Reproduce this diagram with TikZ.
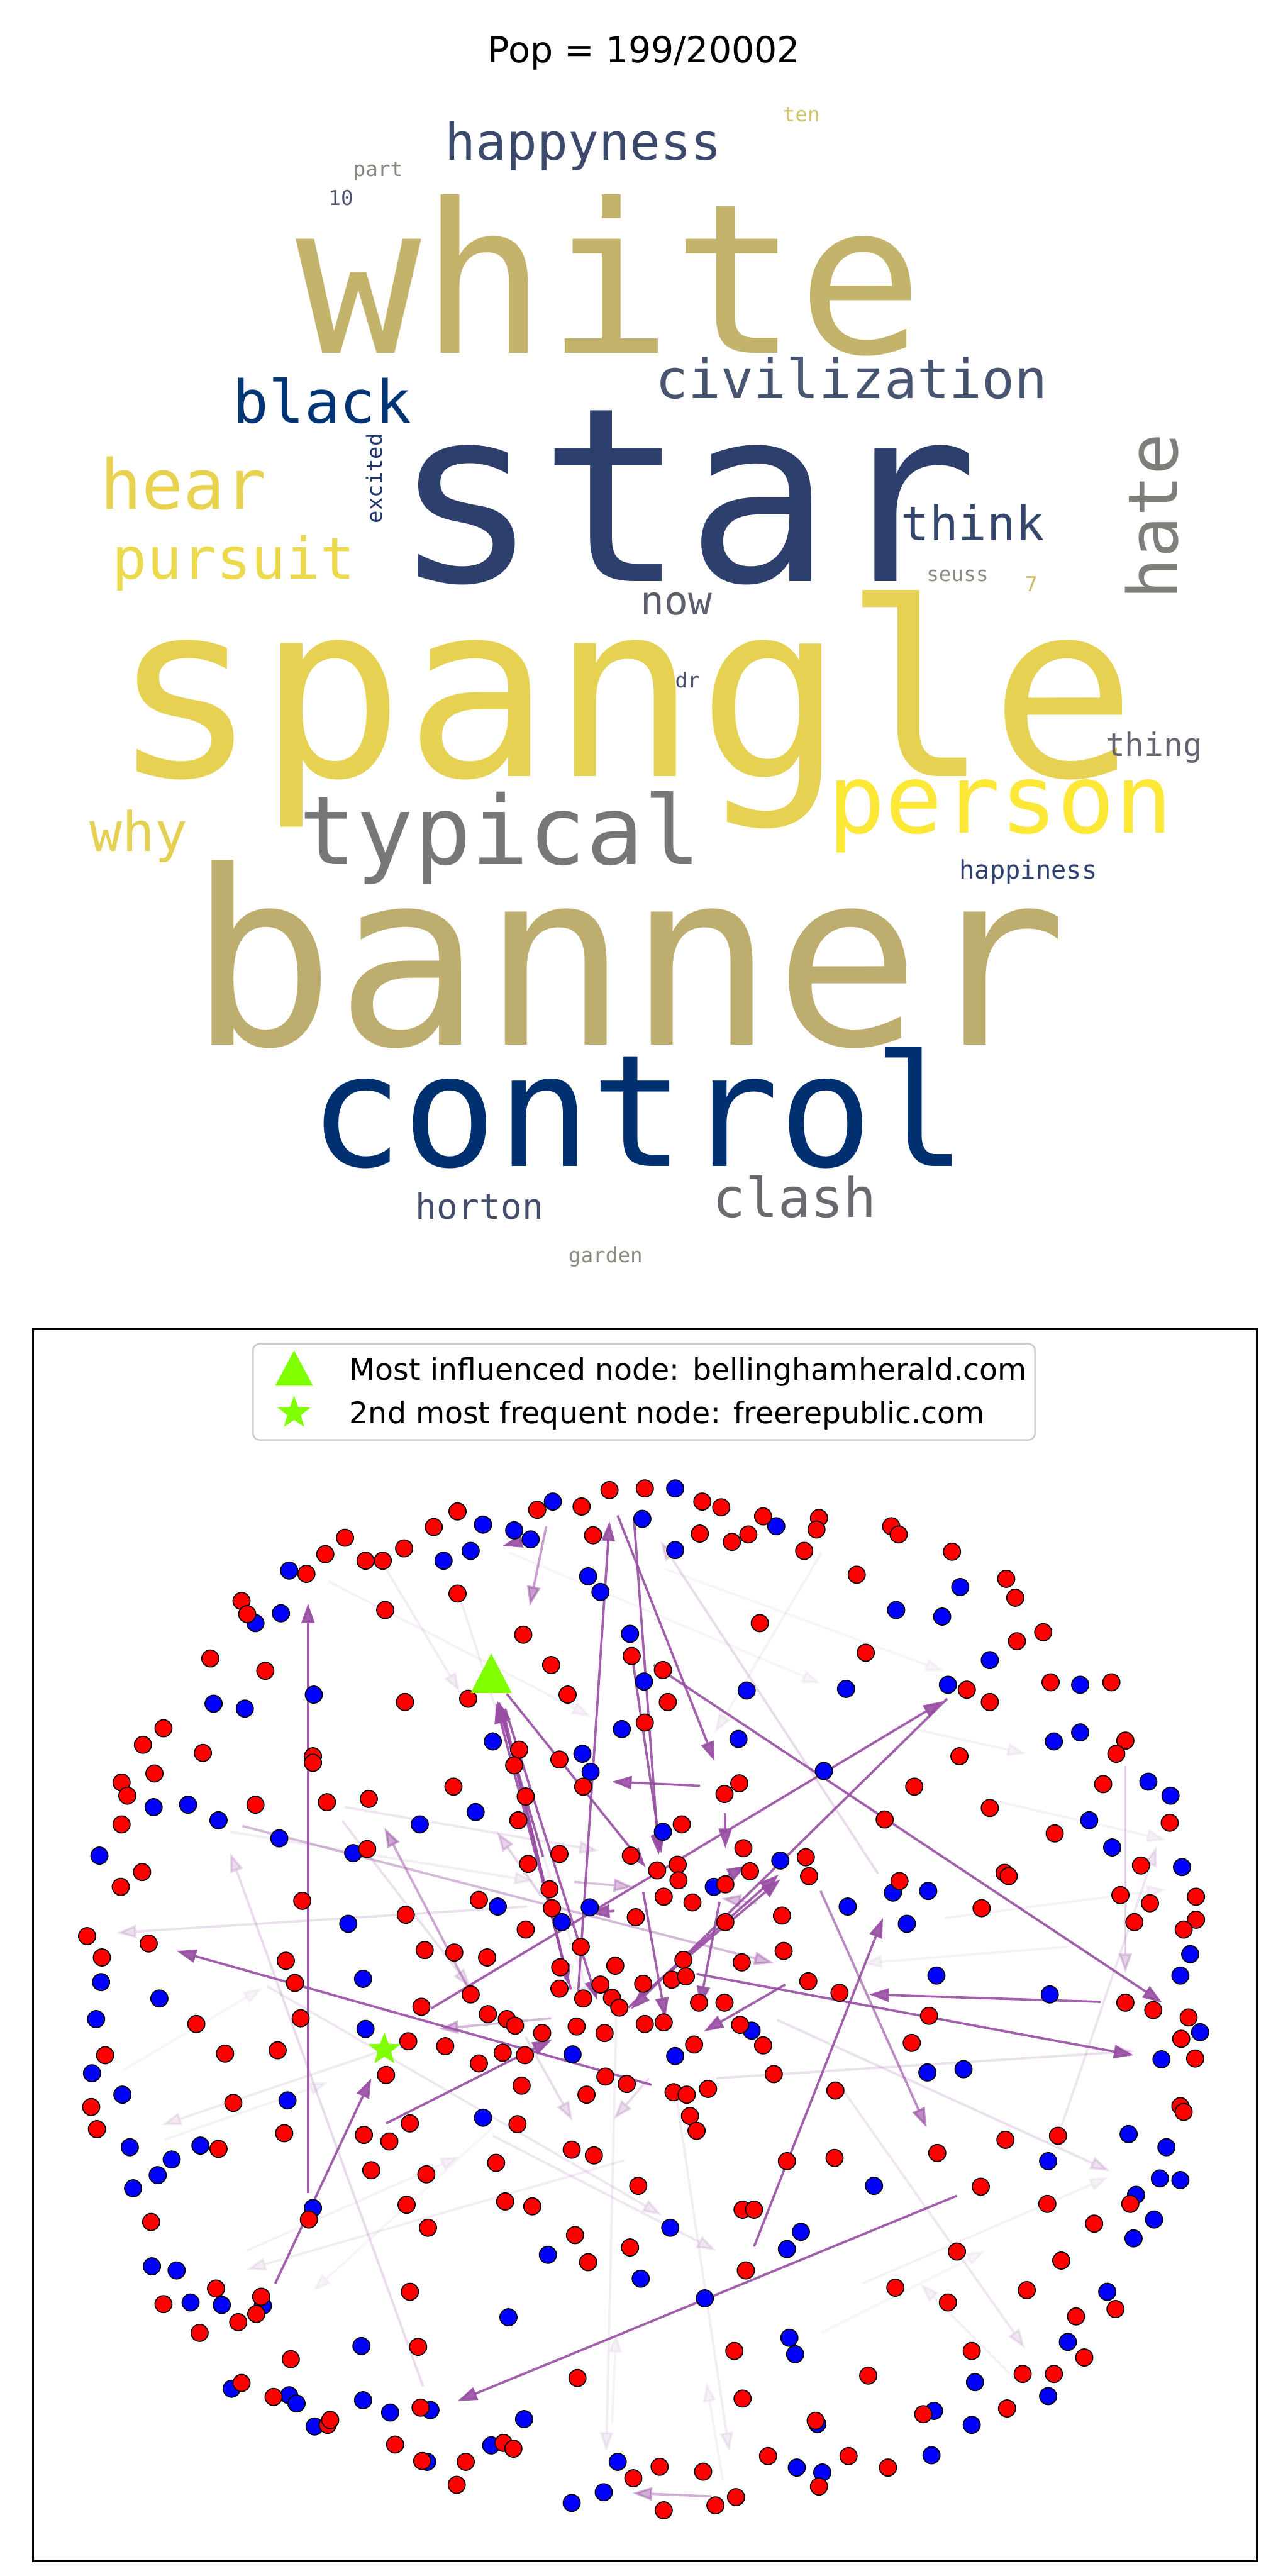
\documentclass[tikz,border=0pt]{standalone}
\usepackage{fontspec}
\setmainfont{DejaVu Sans}
\newfontfamily\cloudfont{DejaVu Sans Mono}
\usetikzlibrary{arrows.meta, shapes.geometric}

\definecolor{cwhite}{HTML}{C4B46B}
\definecolor{cstar}{HTML}{2D3F6C}
\definecolor{cspangle}{HTML}{E6D152}
\definecolor{cbanner}{HTML}{BDAE6F}
\definecolor{ccontrol}{HTML}{00306F}
\definecolor{ctypical}{HTML}{77777A}
\definecolor{cperson}{HTML}{FDE838}
\definecolor{chate}{HTML}{7F7E7A}
\definecolor{cblack}{HTML}{013472}
\definecolor{ccivil}{HTML}{485570}
\definecolor{chappyness}{HTML}{3B496C}
\definecolor{chear}{HTML}{E8D250}
\definecolor{cpursuit}{HTML}{ECD94C}
\definecolor{cthink}{HTML}{35476D}
\definecolor{cnow}{HTML}{5B5F6E}
\definecolor{cexcited}{HTML}{1F386F}
\definecolor{cseuss}{HTML}{8E8B7F}
\definecolor{cseven}{HTML}{C9B96B}
\definecolor{cten}{HTML}{D3C36C}
\definecolor{cpart}{HTML}{8C8A80}
\definecolor{cten2}{HTML}{4F586F}
\definecolor{cdr}{HTML}{4B546F}
\definecolor{cthing}{HTML}{626570}
\definecolor{chappiness}{HTML}{2F416E}
\definecolor{cwhy}{HTML}{E5D054}
\definecolor{cclash}{HTML}{69696F}
\definecolor{chorton}{HTML}{424E6C}
\definecolor{cgarden}{HTML}{8F8B7E}
\definecolor{linkpurple}{HTML}{984EA3}
\definecolor{markgreen}{HTML}{7FFF00}

\newcommand\cloudsz[1]{\cloudfont\fontsize{#1}{#1}\selectfont}

\tikzset{
  word/.style={inner sep=0pt, outer sep=0pt, anchor=base west},
  rdot/.style={circle, draw=black, line width=0.45pt, fill=red, minimum size=0.26cm, inner sep=0pt},
  bdot/.style={circle, draw=black, line width=0.45pt, fill=blue, minimum size=0.26cm, inner sep=0pt},
  link/.style={draw=linkpurple, line width=1pt, -{Triangle[length=0.3cm, width=0.2cm]}},
}

\begin{document}
\begin{tikzpicture}[x=0.025cm, y=-0.025cm]
\useasboundingbox[fill=white] (0,0) rectangle (784,1568);

% title
\node[anchor=base, inner sep=0pt, font=\fontsize{15.5}{15.5}\selectfont] (title) at (392,38) {Pop = 199/20002};

% word cloud
\node[word, text=cwhite, font=\cloudsz{90.3}] (w-white) at (180,215) {white};
\node[word, text=cstar, font=\cloudsz{105.3}] (w-star) at (239,354) {star};
\node[word, text=cspangle, font=\cloudsz{105.3}] (w-spangle) at (68,472.5) {spangle};
\node[word, text=cbanner, font=\cloudsz{105.3}] (w-banner) at (115,636) {banner};
\node[word, text=ccontrol, font=\cloudsz{67.6}] (w-control) at (188,710) {control};
\node[word, text=ctypical, font=\cloudsz{41.3}] (w-typical) at (182,526) {typical};
\node[word, text=cperson, font=\cloudsz{41.3}] (w-person) at (504,507) {person};
\node[word, text=ccivil, font=\cloudsz{23.5}] (w-civil) at (399,242.5) {civilization};
\node[word, text=cblack, font=\cloudsz{25.6}] (w-black) at (142,257.5) {black};
\node[word, text=chappyness, font=\cloudsz{22.1}] (w-happyness) at (271,97.5) {happyness};
\node[word, text=chear, font=\cloudsz{29.9}] (w-hear) at (61,310) {hear};
\node[word, text=cpursuit, font=\cloudsz{24.9}] (w-pursuit) at (68.5,352.5) {pursuit};
\node[word, text=cthink, font=\cloudsz{20.6}] (w-think) at (548.5,329) {think};
\node[word, text=chate, font=\cloudsz{29.9}, rotate=90] (w-hate) at (717,365) {hate};
\node[word, text=cexcited, font=\cloudsz{9.2}, rotate=90] (w-excited) at (232.5,318.5) {excited};
\node[word, text=cnow, font=\cloudsz{17.1}] (w-now) at (390,374) {now};
\node[word, text=cseuss, font=\cloudsz{8.9}] (w-seuss) at (564,354) {seuss};
\node[word, text=cseven, font=\cloudsz{8.9}] (w-seven) at (624,360) {7};
\node[word, text=cten, font=\cloudsz{8.9}] (w-ten) at (476.5,74) {ten};
\node[word, text=cpart, font=\cloudsz{8.9}] (w-part) at (215,107.5) {part};
\node[word, text=cten2, font=\cloudsz{8.9}] (w-num) at (200,125) {10};
\node[word, text=cdr, font=\cloudsz{8.9}] (w-dr) at (411,418.5) {dr};
\node[word, text=cthing, font=\cloudsz{13.9}] (w-thing) at (673,460.5) {thing};
\node[word, text=chappiness, font=\cloudsz{11.0}] (w-happiness) at (584,535) {happiness};
\node[word, text=cwhy, font=\cloudsz{23.5}] (w-why) at (54.5,518) {why};
\node[word, text=cclash, font=\cloudsz{23.5}] (w-clash) at (434,741) {clash};
\node[word, text=chorton, font=\cloudsz{15.3}] (w-horton) at (253,742) {horton};
\node[word, text=cgarden, font=\cloudsz{8.9}] (w-garden) at (346,768.5) {garden};

% network panel
\begin{scope}[shift={(0,795)}, x=0.0125cm, y=-0.0125cm]

% faint links
\foreach \ax/\ay/\bx/\by/\op in {
  400/335/720/500/0.08, 620/300/1000/460/0.06, 470/320/560/470/0.1, 560/355/720/850/0.1,
  810/320/1150/445/0.06, 1090/510/1250/545/0.08, 1150/745/1420/710/0.08, 1050/1190/1350/1060/0.08,
  1230/1300/1120/1190/0.08, 880/1430/860/1310/0.08, 745/1360/750/1250/0.08, 300/1150/560/1035/0.08,
  200/1015/400/945/0.08, 150/930/320/830/0.06, 600/1000/380/1200/0.06, 1000/1250/1200/1150/0.06,
  1300/780/1050/800/0.08, 1200/600/1420/650/0.08, 280/640/650/700/0.1, 1000/300/870/520/0.08,
  1069/691/804/286/0.2, 417/627/573/830/0.18, 660/720/605/640/0.25, 420/610/729/663/0.15,
  699/701/771/707/0.35, 642/731/142/763/0.18, 872/940/1381/907/0.18, 946/869/1351/1053/0.18,
  600/1010/872/1150/0.14, 1019/944/1248/1269/0.14, 822/953/888/1395/0.1, 640/890/697/992/0.2,
  790/940/747/990/0.2, 470/905/197/997/0.12, 760/1040/300/1173/0.1, 751/830/738/1395/0.1,
  325/828/806/1107/0.14, 1290/1005/1408/658/0.15, 1370/560/1370/812/0.25, 866/1449/770/1445/0.45,
  515/1315/280/665/0.2, 295/633/942/800/0.4, 575/840/468/635/0.5, 671/867/534/880/0.4,
  665/268/645/365/0.55, 999/712/1128/1000/0.65, 921/727/878/721/0.35}{
  \coordinate (tail) at (\ax,\ay);
  \coordinate (head) at (\bx,\by);
  \draw[link, opacity=\op] (tail) -- (head);
}

% strong links
\foreach \ax/\ay/\bx/\by in {
  375/1080/375/362, 335/1190/452/940, 793/948/215/785, 470/995/672/893,
  525/855/1148/481, 1153/478/768/856, 765/854/948/692, 771/848/950/698,
  796/437/1415/848, 1340/847/1058/838, 848/813/1380/912, 918/1145/1075/745,
  1165/1083/557/1333, 752/255/870/554, 769/423/805/666, 772/262/802/668,
  704/834/742/262, 661/670/605/480, 695/832/604/484, 682/781/608/482,
  617/472/786/683, 852/584/745/579, 883/617/883/660, 956/826/857/883,
  748/736/718/739, 615/490/727/845, 612/490/692/826, 783/713/810/866,
  876/725/852/852, 884/695/909/681, 650/282/612/292}{
  \coordinate (tail) at (\ax,\ay);
  \coordinate (head) at (\bx,\by);
  \draw[link, opacity=0.9] (tail) -- (head);
}

% blue nodes
\foreach \x/\y [count=\i] in {
  822/222,673/238,588/266,626/273,646/284,782/259,945/268,822/297,1169/342,540/310,573/298,352/322,
  311/386,342/374,716/329,731/348,1091/370,1147/378,767/399,1205/431,784/457,909/468,1030/466,1154/461,
  1315/461,260/484,298/490,382/473,757/515,899/527,600/530,1283/530,1315/519,709/545,719/567,1003/566,
  1398/579,1425/596,187/610,229/607,579/616,266/626,511/631,807/640,1326/626,121/669,340/648,430/666,
  1354/659,950/675,1439/683,1087/714,1130/712,869/707,1032/731,606/731,718/732,684/750,1104/752,424/752,
  1449/789,123/823,442/819,1140/815,1437/815,194/843,1278/838,117/868,915/882,1461/884,445/880,697/911,
  822/913,1173/929,1129/933,1414/917,112/934,149/960,350/967,588/988,1374/1008,158/1024,244/1022,209/1039,
  1276/1041,1420/1024,192/1058,162/1074,1412/1062,1437/1064,1064/1071,381/1098,1383/1082,816/1122,1405/1112,
  975/1127,958/1148,1380/1135,185/1169,215/1174,667/1155,780/1184,320/1217,858/1208,1348/1200,232/1213,
  270/1216,619/1231,1300/1261,440/1266,961/1256,968/1276,1187/1310,282/1318,352/1326,361/1336,442/1332,
  475/1347,524/1344,638/1355,1137/1345,1276/1327,383/1364,995/1361,1183/1362,598/1387,520/1407,752/1407,
  970/1414,1001/1420,1134/1399,735/1444,696/1457}
  \node[bdot] (b\i) at (\x,\y) {};

% red nodes
\foreach \x/\y [count=\i] in {
  742/224,785/222,654/248,708/244,855/238,878/245,557/250,528/269,722/279,852/277,891/287,911/278,
  929/256,997/258,994/272,979/298,1085/268,1094/278,1159/299,1043/327,1225/332,1236/355,420/282,396/302,
  445/310,466/310,492/295,373/326,294/359,301/375,469/370,557/350,925/386,637/400,1238/408,1270/397,
  1054/422,256/429,323/444,769/426,671/437,807/443,1177/467,1205/482,1279/458,1353/458,493/482,570/478,
  691/473,813/482,785/507,199/514,174/534,247/544,632/540,1370/529,1359/545,381/548,381/556,681/552,
  626/559,1168/548,188/569,148/580,155/596,552/585,710/585,900/581,882/594,1113/585,1343/582,311/607,
  398/604,449/600,640/597,1205/611,1077/625,148/631,631/626,830/631,1424/629,1284/642,447/661,681/667,
  905/660,173/689,147/707,768/669,981/671,985/694,643/679,800/687,825/680,826/699,913/688,1389/681,
  1095/700,1223/690,1228/694,669/710,808/719,843/726,883/704,1195/733,1364/717,1400/727,1456/719,368/724,
  583/723,672/733,774/744,883/750,952/742,1381/750,1456/747,1441/759,106/767,181/776,494/741,640/759,
  707/780,954/785,124/793,348/797,517/784,553/787,593/793,749/803,832/796,903/799,359/824,682/805,
  681/831,783/825,818/820,835/816,984/822,1022/836,573/838,731/826,710/843,745/842,754/854,851/848,
  882/848,1370/848,1404/857,1447/866,239/874,366/867,513/853,594/862,617/868,627/876,660/885,702/877,
  736/885,785/874,808/872,901/875,1131/864,497/895,542/901,583/922,612/909,639/912,845/899,929/900,
  1110/897,1455/916,1438/892,128/912,274/910,338/906,470/936,737/938,763/947,635/949,714/960,820/957,
  836/960,862/953,942/935,1017/955,111/975,284/970,840/986,1437/974,1441/981,118/1002,346/1007,443/1009,
  474/1017,499/995,630/996,848/1004,1288/1010,1224/1015,266/1026,696/1027,723/1034,958/1041,1016/1037,
  1141/1031,452/1052,519/1057,604/1043,777/1071,1194/1072,376/1112,184/1115,495/1094,615/1090,648/1096,
  904/1100,918/1100,1275/1093,1376/1093,521/1122,1332/1117,700/1131,767/1146,1165/1151,716/1164,908/1174,
  1292/1162,263/1196,318/1206,499/1200,1090/1195,1250/1198,199/1215,312/1227,290/1237,1154/1213,1310/1230,
  1358/1221,243/1250,509/1267,894/1272,1183/1272,1320/1280,354/1282,703/1305,1057/1302,1245/1300,1283/1300,
  294/1311,333/1328,512/1341,904/1330,1124/1349,1226/1342,399/1362,402/1356,993/1357,481/1386,613/1384,
  625/1391,514/1406,567/1407,803/1413,856/1419,935/1400,1033/1400,1081/1414,771/1427,556/1435,997/1437,
  808/1466,871/1460,896/1450}
  \node[rdot] (r\i) at (\x,\y) {};

% marked nodes
\node[star, star points=5, star point ratio=2.4, fill=markgreen, minimum size=0.52cm, inner sep=0pt] (freerep) at (468,905) {};
\coordinate (bellingham) at (598,447);
\fill[markgreen, shift={(bellingham)}] (0,-24) -- (25,24) -- (-25,24) -- cycle;

% legend
\draw[rounded corners=0.1cm, draw=black!20, fill=white, fill opacity=0.85, line width=0.7pt] (308,46) rectangle (1260,163);
\coordinate (legtri) at (358,76);
\fill[markgreen, shift={(legtri)}] (0,-22) -- (23,21) -- (-23,21) -- cycle;
\node[star, star points=5, star point ratio=2.4, fill=markgreen, minimum size=0.52cm, inner sep=0pt] (legstar) at (358,130) {};
\node[anchor=base west, inner sep=0pt, font=\fontsize{12.9}{12.9}\selectfont] (leg1) at (425,90) {Most influenced node: bellinghamherald.com};
\node[anchor=base west, inner sep=0pt, font=\fontsize{12.9}{12.9}\selectfont] (leg2) at (425,143) {2nd most frequent node: freerepublic.com};

% frame
\draw[line width=0.8pt] (40,28) rectangle (1530,1528);
\end{scope}
\end{tikzpicture}
\end{document}
